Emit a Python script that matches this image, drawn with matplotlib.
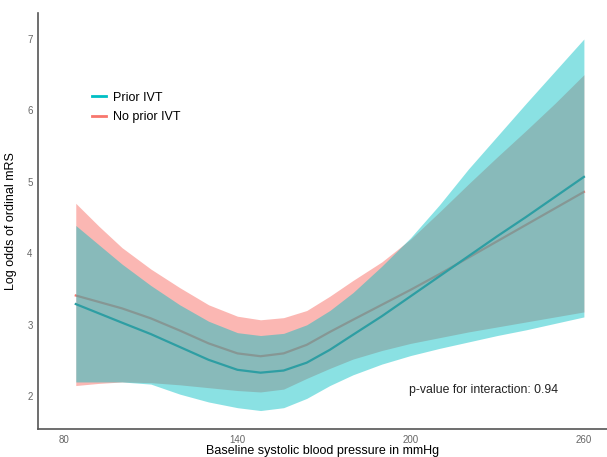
import numpy as np
import matplotlib.pyplot as plt

plt.rcParams['font.family'] = ['Liberation Sans', 'DejaVu Sans']

# systolic blood pressure grid (mmHg)
sbp = np.array([84, 92, 100, 110, 120, 130, 140, 148, 156, 164, 172,
                180, 190, 200, 210, 220, 230, 240, 250, 260])

# Prior IVT: estimate and 95% band
prior_fit = np.array([3.29, 3.16, 3.03, 2.87, 2.69, 2.51, 2.37, 2.33, 2.36, 2.47, 2.65,
                      2.86, 3.12, 3.40, 3.68, 3.96, 4.24, 4.51, 4.79, 5.07])
prior_hi = np.array([4.39, 4.12, 3.85, 3.55, 3.28, 3.05, 2.89, 2.85, 2.88, 3.00, 3.20,
                     3.45, 3.82, 4.22, 4.68, 5.18, 5.64, 6.10, 6.55, 7.00])
prior_lo = np.array([2.20, 2.20, 2.20, 2.17, 2.03, 1.92, 1.84, 1.80, 1.84, 1.97, 2.15,
                     2.30, 2.45, 2.57, 2.67, 2.76, 2.85, 2.93, 3.02, 3.11])

# No prior IVT: estimate and 95% band
noprior_fit = np.array([3.41, 3.32, 3.23, 3.09, 2.92, 2.74, 2.60, 2.56, 2.60, 2.72, 2.90,
                        3.07, 3.28, 3.49, 3.71, 3.94, 4.17, 4.40, 4.63, 4.86])
noprior_hi = np.array([4.70, 4.38, 4.08, 3.78, 3.52, 3.28, 3.12, 3.07, 3.10, 3.20, 3.40,
                       3.62, 3.88, 4.20, 4.58, 4.97, 5.35, 5.72, 6.10, 6.50])
noprior_lo = np.array([2.15, 2.18, 2.20, 2.19, 2.16, 2.12, 2.08, 2.06, 2.10, 2.25, 2.39,
                       2.52, 2.64, 2.74, 2.82, 2.90, 2.97, 3.04, 3.11, 3.18])

xticks = [80, 140, 200, 260]
yticks = [2, 3, 4, 5, 6, 7]

teal = '#00BFC4'
salmon = '#F8766D'

fig = plt.figure(figsize=(6.07, 4.57), dpi=100)
ax = fig.add_axes([0.063, 0.061, 0.937, 0.91])

# no prior IVT first, prior IVT band drawn over it (so its line shows grey)
ax.fill_between(sbp, noprior_lo, noprior_hi, color=salmon, alpha=0.52, lw=0, zorder=1)
ax.plot(sbp, noprior_fit, color=salmon, lw=1.6, zorder=2)
ax.fill_between(sbp, prior_lo, prior_hi, color=teal, alpha=0.46, lw=0, zorder=3)
ax.plot(sbp, prior_fit, color='#2E9EA3', lw=1.6, zorder=4)

# legend handles
ax.plot([], [], color=teal, lw=2, label='Prior IVT')
ax.plot([], [], color=salmon, lw=2, label='No prior IVT')
handles, labels = ax.get_legend_handles_labels()
ax.legend(handles[-2:], labels[-2:], loc='upper left', bbox_to_anchor=(0.075, 0.838),
          frameon=False, fontsize=9, handlelength=1.1, handletextpad=0.6,
          labelspacing=0.6)

ax.text(0.651, 0.086, 'p-value for interaction: 0.94', transform=ax.transAxes,
        fontsize=8.8, color='#222222')

ax.set_xlim(71, 268)
ax.set_ylim(1.54, 7.36)
ax.set_xticks(xticks)
ax.set_yticks(yticks)
ax.tick_params(length=0, labelsize=7, colors='#666666', pad=4)
ax.set_xlabel('Baseline systolic blood pressure in mmHg', fontsize=9, labelpad=0)
ax.set_ylabel('Log odds of ordinal mRS', fontsize=9, labelpad=7)

for side in ['top', 'right']:
    ax.spines[side].set_visible(False)
for side in ['left', 'bottom']:
    ax.spines[side].set_color('#555555')
    ax.spines[side].set_linewidth(1.2)

fig.savefig('out.png', dpi=100)
